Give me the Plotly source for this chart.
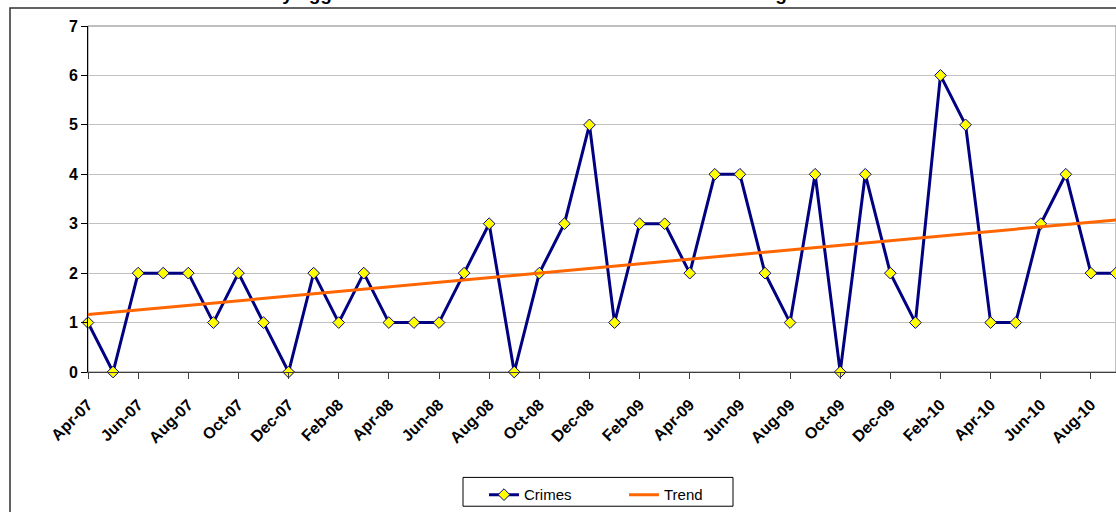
import numpy as np
import plotly.graph_objects as go

# Monthly counts, April 2007 to September 2010
months = [
    "Apr-07", "May-07", "Jun-07", "Jul-07", "Aug-07", "Sep-07", "Oct-07", "Nov-07",
    "Dec-07", "Jan-08", "Feb-08", "Mar-08", "Apr-08", "May-08", "Jun-08", "Jul-08",
    "Aug-08", "Sep-08", "Oct-08", "Nov-08", "Dec-08", "Jan-09", "Feb-09", "Mar-09",
    "Apr-09", "May-09", "Jun-09", "Jul-09", "Aug-09", "Sep-09", "Oct-09", "Nov-09",
    "Dec-09", "Jan-10", "Feb-10", "Mar-10", "Apr-10", "May-10", "Jun-10", "Jul-10",
    "Aug-10", "Sep-10",
]
crimes = [
    1, 0, 2, 2, 2, 1, 2, 1, 0, 2, 1, 2, 1, 1, 1, 2, 3, 0, 2, 3, 5,
    1, 3, 3, 2, 4, 4, 2, 1, 4, 0, 4, 2, 1, 6, 5, 1, 1, 3, 4, 2, 2,
]
tick_labels = months[::2]
y_ticks = [0, 1, 2, 3, 4, 5, 6, 7]
title_text = "Monthly aggravated theft offences in the town centre including trend"

# Linear least-squares trend line over the monthly series
idx = np.arange(len(crimes))
slope, intercept = np.polyfit(idx, crimes, 1)
trend = slope * idx + intercept

W, H = 1116, 512
L, R, T, B = 88, 0, 26, 138
pw, ph = W - L - R, H - T - B


def px_x(p):
    return (p - L) / pw


def px_y(p):
    return (H - B - p) / ph


font = "Arial, Liberation Sans, sans-serif"

fig = go.Figure()
fig.add_trace(go.Scatter(
    x=months, y=crimes, name="Crimes", mode="lines+markers",
    line=dict(color="#000080", width=3),
    marker=dict(symbol="diamond", size=9, color="#FFFF00",
                line=dict(color="#000080", width=1)),
    cliponaxis=False,
))
fig.add_trace(go.Scatter(
    x=months, y=trend, name="Trend", mode="lines",
    line=dict(color="#FF6600", width=3),
))

fig.update_layout(
    width=W, height=H,
    margin=dict(l=L, r=R, t=T, b=B, pad=0),
    paper_bgcolor="white", plot_bgcolor="white",
    font=dict(family=font, color="black"),
    showlegend=True,
    legend=dict(
        orientation="h", x=px_x(484), xanchor="left",
        y=px_y(481), yanchor="top",
        bgcolor="rgba(0,0,0,0)", borderwidth=0,
        font=dict(size=15, family=font),
        entrywidth=95, entrywidthmode="pixels",
        traceorder="normal",
    ),
    xaxis=dict(
        type="category", range=[0, len(months) - 1],
        tickmode="array", tickvals=tick_labels, ticktext=tick_labels,
        tickangle=-45, tickfont=dict(size=16, family=font, weight="bold"),
        ticklabelstandoff=10,
        ticks="outside", ticklen=6, tickcolor="#404040",
        showline=True, linecolor="#404040", linewidth=1,
        showgrid=False, zeroline=False, fixedrange=True,
    ),
    yaxis=dict(
        range=[0, 7], tickmode="array", tickvals=y_ticks,
        tickfont=dict(size=16, family=font, weight="bold"),
        ticks="outside", ticklen=6, tickcolor="black",
        showline=True, linecolor="black", linewidth=1,
        showgrid=True, gridcolor="#C0C0C0", gridwidth=1,
        zeroline=False, fixedrange=True,
    ),
    shapes=[
        # plot area frame (top and right edges)
        dict(type="rect", xref="paper", yref="paper", x0=0, x1=1, y0=0, y1=1,
             line=dict(color="#808080", width=1), layer="below"),
        # outer chart frame
        dict(type="rect", xref="paper", yref="paper",
             x0=px_x(10), x1=px_x(W + 20), y0=px_y(H + 20), y1=px_y(8),
             line=dict(color="#303030", width=1.5)),
        # legend frame
        dict(type="rect", xref="paper", yref="paper",
             x0=px_x(463), x1=px_x(733), y0=px_y(509), y1=px_y(480),
             line=dict(color="black", width=1), fillcolor="rgba(0,0,0,0)"),
    ],
    annotations=[
        dict(text=f"<b>{title_text}</b>", xref="paper", yref="paper",
             x=px_x(218), xanchor="left", y=px_y(5.5), yanchor="bottom",
             showarrow=False, font=dict(size=19, family=font)),
    ],
)

fig.write_html("out.html")
